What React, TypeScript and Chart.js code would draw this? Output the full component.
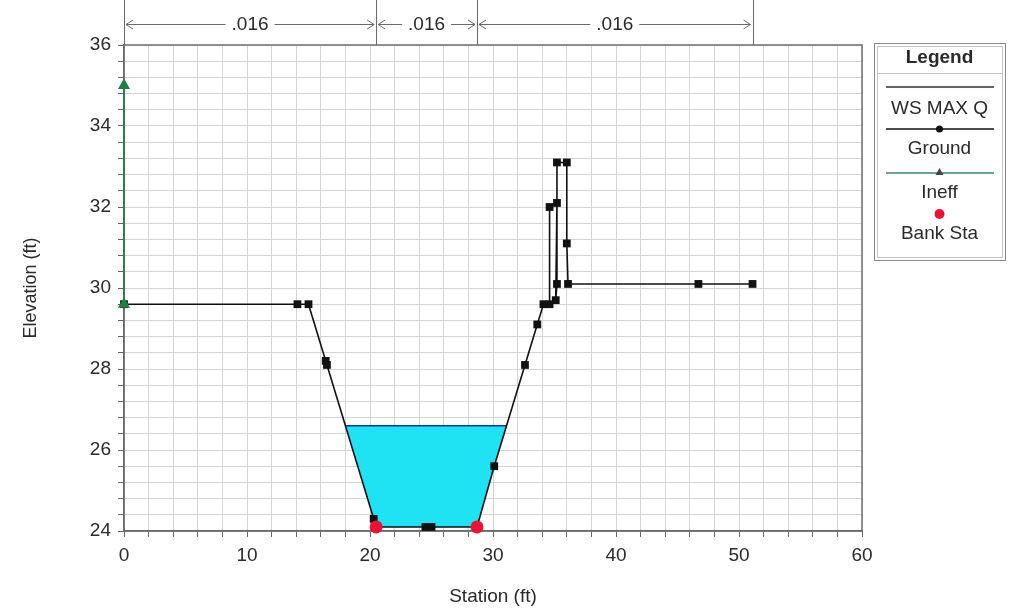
import React, { useEffect, useRef } from "react";
import { Chart, registerables } from "chart.js";

Chart.register(...registerables);

// ---------- data ----------
const wsLabel = "WS MAX Q";
const wsElevation = 26.6;

const groundStation = [0, 14.1, 15.0, 16.4, 16.5, 20.3, 20.5, 24.5, 25.0, 28.7, 30.1, 32.6, 33.6, 34.1, 34.6, 34.6, 35.2, 35.1, 35.2, 35.2, 36.0, 36.0, 36.1, 46.7, 51.1];
const groundElevation = [29.6, 29.6, 29.6, 28.2, 28.1, 24.3, 24.1, 24.1, 24.1, 24.1, 25.6, 28.1, 29.1, 29.6, 29.6, 32.0, 32.1, 29.7, 30.1, 33.1, 33.1, 31.1, 30.1, 30.1, 30.1];

const ineffStation = [0, 0];
const ineffElevation = [29.6, 35.0];

const bankStation = [20.5, 28.7];
const bankElevation = [24.1, 24.1];

const nBreaks = [0, 20.5, 28.7, 51.1];
const nValues = [".016", ".016", ".016"];

const xMin = 0, xMax = 60, xMinorStep = 2, xMajorStep = 10;
const yMin = 24, yMax = 36, yMinorStep = 0.4, yMajorStep = 2;

const xTitle = "Station (ft)";
const yTitle = "Elevation (ft)";
const legendTitle = "Legend";
const legendLabels = [wsLabel, "Ground", "Ineff", "Bank Sta"];

// ---------- colors / fonts ----------
const FONT = 'Arial, "Liberation Sans", sans-serif';
const TEXT = "#2a2a2a";
const WATER = "#1fe3f2";
const WS_LINE = "#1030e0";
const GROUND = "#111111";
const INEFF = "#1f7f45";
const BANK = "#ee1133";

// water polygon derived from ground and WS elevation
function waterBoundary() {
  let minI = 0;
  for (let i = 1; i < groundElevation.length; i++) if (groundElevation[i] < groundElevation[minI]) minI = i;
  let l = minI;
  while (l > 0 && groundElevation[l - 1] < wsElevation) l--;
  let r = minI;
  while (r < groundElevation.length - 1 && groundElevation[r + 1] < wsElevation) r++;
  const cross = (a: number, b: number) => {
    const t = (wsElevation - groundElevation[a]) / (groundElevation[b] - groundElevation[a]);
    return groundStation[a] + t * (groundStation[b] - groundStation[a]);
  };
  const xl = cross(l - 1, l);
  const xr = cross(r, r + 1);
  const bottom = [{ x: xl, y: wsElevation }];
  for (let i = l; i <= r; i++) bottom.push({ x: groundStation[i], y: groundElevation[i] });
  bottom.push({ x: xr, y: wsElevation });
  return { top: [{ x: xl, y: wsElevation }, { x: xr, y: wsElevation }], bottom };
}

const isMult = (v: number, s: number) => Math.abs(v / s - Math.round(v / s)) < 1e-6;

const framePlugin = {
  id: "frame",
  beforeDatasetsDraw(chart: any) {
    const { ctx, chartArea: a } = chart;
    ctx.save();
    ctx.strokeStyle = "#707070";
    ctx.lineWidth = 1.5;
    ctx.strokeRect(a.left, a.top, a.right - a.left, a.bottom - a.top);
    ctx.restore();
  },
};

const overlayPlugin = {
  id: "overlay",
  afterDraw(chart: any) {
    const { ctx, chartArea: a } = chart;
    const x = chart.scales.x;
    ctx.save();
    // Manning's n annotations
    const yA = 24;
    ctx.strokeStyle = "#6a6a6a";
    ctx.lineWidth = 1;
    ctx.font = `19px ${FONT}`;
    ctx.fillStyle = TEXT;
    ctx.textAlign = "center";
    ctx.textBaseline = "middle";
    nBreaks.forEach((b) => {
      const px = Math.round(x.getPixelForValue(b)) + 0.5;
      ctx.beginPath();
      ctx.moveTo(px, 0);
      ctx.lineTo(px, a.top);
      ctx.stroke();
    });
    for (let i = 0; i < nValues.length; i++) {
      const x0 = x.getPixelForValue(nBreaks[i]) + 2;
      const x1 = x.getPixelForValue(nBreaks[i + 1]) - 2;
      const cx = (x0 + x1) / 2;
      const tw = ctx.measureText(nValues[i]).width;
      ctx.beginPath();
      ctx.moveTo(x0, yA + 0.5);
      ctx.lineTo(cx - tw / 2 - 6, yA + 0.5);
      ctx.moveTo(cx + tw / 2 + 6, yA + 0.5);
      ctx.lineTo(x1, yA + 0.5);
      // arrowheads
      ctx.moveTo(x0 + 7, yA - 4);
      ctx.lineTo(x0, yA + 0.5);
      ctx.lineTo(x0 + 7, yA + 5);
      ctx.moveTo(x1 - 7, yA - 4);
      ctx.lineTo(x1, yA + 0.5);
      ctx.lineTo(x1 - 7, yA + 5);
      ctx.stroke();
      ctx.fillText(nValues[i], cx, yA + 1);
    }

    // legend box
    const L = 874, R = 1005, T = 43, B = 260;
    const cx = (L + R) / 2;
    ctx.strokeStyle = "#8a8a8a";
    ctx.lineWidth = 1;
    ctx.strokeRect(L + 0.5, T + 0.5, R - L, B - T);
    ctx.strokeStyle = "#c4c4c4";
    ctx.strokeRect(L + 3.5, T + 3.5, R - L - 6, B - T - 6);
    ctx.beginPath();
    ctx.moveTo(L + 4, 73.5);
    ctx.lineTo(R - 3, 73.5);
    ctx.stroke();
    ctx.fillStyle = TEXT;
    ctx.font = `bold 19px ${FONT}`;
    ctx.fillText(legendTitle, cx, 58);
    ctx.font = `19px ${FONT}`;
    const lx0 = L + 12, lx1 = R - 11;
    const sample = (y: number, color: string) => {
      ctx.strokeStyle = color;
      ctx.lineWidth = 1.5;
      ctx.beginPath();
      ctx.moveTo(lx0, y);
      ctx.lineTo(lx1, y);
      ctx.stroke();
    };
    sample(87, "#303040");
    ctx.fillStyle = TEXT;
    ctx.fillText(legendLabels[0], cx, 109);
    sample(129, GROUND);
    ctx.fillStyle = GROUND;
    ctx.beginPath();
    ctx.arc(cx, 129, 3.5, 0, Math.PI * 2);
    ctx.fill();
    ctx.fillStyle = TEXT;
    ctx.fillText(legendLabels[1], cx, 149);
    sample(173, "#3a8a6a");
    ctx.fillStyle = "#444";
    ctx.beginPath();
    ctx.moveTo(cx, 168);
    ctx.lineTo(cx + 4, 175);
    ctx.lineTo(cx - 4, 175);
    ctx.closePath();
    ctx.fill();
    ctx.fillStyle = TEXT;
    ctx.fillText(legendLabels[2], cx, 193);
    ctx.fillStyle = BANK;
    ctx.beginPath();
    ctx.arc(cx, 214, 5, 0, Math.PI * 2);
    ctx.fill();
    ctx.fillStyle = TEXT;
    ctx.fillText(legendLabels[3], cx, 234);
    ctx.restore();
  },
};

export default function App() {
  const ref = useRef<HTMLCanvasElement | null>(null);

  useEffect(() => {
    if (!ref.current) return;
    const water = waterBoundary();
    const tickFont = { family: FONT, size: 19 };
    const chart = new Chart(ref.current, {
      type: "line",
      data: {
        datasets: [
          {
            label: wsLabel,
            data: water.top,
            borderColor: WS_LINE,
            borderWidth: 1.5,
            pointRadius: 0,
            backgroundColor: WATER,
            fill: "+1",
            order: 3,
            clip: false,
          } as any,
          {
            label: "water-bottom",
            data: water.bottom,
            borderWidth: 0,
            borderColor: "rgba(0,0,0,0)",
            pointRadius: 0,
            fill: false,
            order: 4,
          },
          {
            label: "Ground",
            data: groundStation.map((s, i) => ({ x: s, y: groundElevation[i] })),
            borderColor: GROUND,
            backgroundColor: GROUND,
            borderWidth: 1.6,
            pointStyle: "rect",
            pointRadius: 5.5,
            pointBorderWidth: 0,
            fill: false,
            order: 2,
            clip: false,
          } as any,
          {
            label: "Ineff",
            data: ineffStation.map((s, i) => ({ x: s, y: ineffElevation[i] })),
            borderColor: INEFF,
            backgroundColor: INEFF,
            borderWidth: 1.5,
            pointStyle: "triangle",
            pointRadius: 7,
            pointBorderWidth: 0,
            fill: false,
            order: 1,
            clip: false,
          } as any,
          {
            label: "Bank Sta",
            data: bankStation.map((s, i) => ({ x: s, y: bankElevation[i] })),
            showLine: false,
            borderColor: BANK,
            backgroundColor: BANK,
            pointStyle: "circle",
            pointRadius: 6.5,
            pointBorderWidth: 0,
            fill: false,
            order: 0,
            clip: false,
          } as any,
        ],
      },
      options: {
        animation: false,
        responsive: false,
        devicePixelRatio: 1,
        events: [],
        layout: { padding: { top: 45, right: 151, left: 0, bottom: 0 } },
        plugins: { legend: { display: false }, tooltip: { enabled: false } },
        elements: { line: { tension: 0 } },
        scales: {
          x: {
            type: "linear",
            min: xMin,
            max: xMax,
            ticks: {
              stepSize: xMinorStep,
              autoSkip: false,
              maxRotation: 0,
              font: tickFont,
              color: TEXT,
              padding: 7,
              callback: (v: any) => (isMult(Number(v), xMajorStep) ? String(v) : ""),
            },
            grid: { color: "#d4d4d4", tickLength: 6, tickColor: "#666" },
            border: { color: "#555", width: 1.5 },
            title: { display: true, text: xTitle, font: tickFont, color: TEXT, padding: { top: 4, bottom: 3 } },
            afterFit: (s: any) => {
              s.height = 80;
            },
          },
          y: {
            type: "linear",
            min: yMin,
            max: yMax,
            ticks: {
              stepSize: yMinorStep,
              autoSkip: false,
              font: tickFont,
              color: TEXT,
              padding: 7,
              callback: (v: any) => (isMult(Number(v), yMajorStep) ? String(Math.round(Number(v))) : ""),
            },
            grid: { color: "#d4d4d4", tickLength: 6, tickColor: "#666" },
            border: { color: "#555", width: 1.5 },
            title: { display: true, text: yTitle, font: { family: FONT, size: 18 }, color: TEXT, padding: { top: 20, bottom: 20 } },
            afterFit: (s: any) => {
              s.width = 124;
            },
          },
        },
      } as any,
      plugins: [framePlugin, overlayPlugin],
    });
    return () => chart.destroy();
  }, []);

  return (
    <div style={{ position: "fixed", left: 0, top: 0, width: 1013, height: 611, background: "#fff" }}>
      <canvas ref={ref} width={1013} height={611} style={{ width: 1013, height: 611, display: "block" }} />
    </div>
  );
}
